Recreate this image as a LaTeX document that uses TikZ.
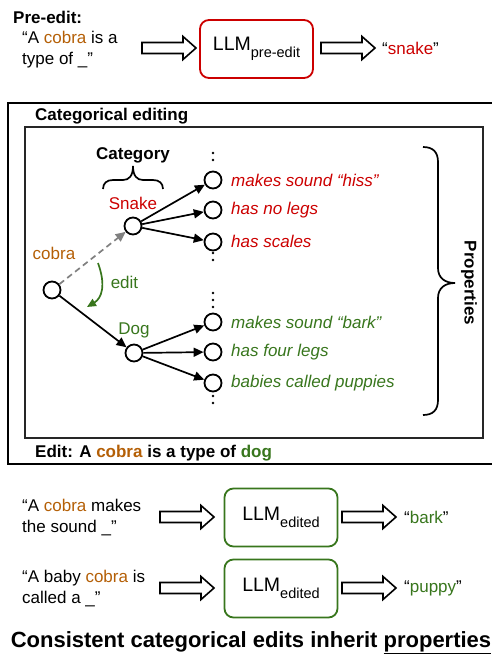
\documentclass[tikz,border=0pt]{standalone}
\usepackage{fontspec}
\setmainfont{Liberation Sans}
\usetikzlibrary{arrows.meta}
\definecolor{myred}{HTML}{CC0000}
\definecolor{mygreen}{HTML}{38761D}
\definecolor{myorange}{HTML}{B45F06}
\definecolor{mygrey}{HTML}{808080}
\begin{document}
\begin{tikzpicture}[x=1pt,y=-1pt,
  txt/.style={font=\fontsize{17}{21}\selectfont, inner sep=0pt},
  txtb/.style={font=\fontsize{17}{21}\selectfont\bfseries, inner sep=0pt},
  prop/.style={font=\fontsize{17}{21}\selectfont\itshape, inner sep=0pt, anchor=west},
  cnode/.style={circle, draw, line width=1.8pt, minimum size=17pt, inner sep=0pt, fill=white},
  conn/.style={line width=1.7pt, -{Triangle[length=10pt,width=9pt]}},
  llm/.style={draw, rounded corners=9pt, line width=1.8pt, minimum width=113pt, minimum height=58pt, inner sep=0pt, font=\fontsize{19.5}{22}\selectfont},
  vdots/.style={line width=2.6pt, line cap=round, dash pattern=on 0pt off 7pt},
  brace/.style={line width=1.7pt},
  blockarrow/.pic={\draw[line width=1.6pt, line join=miter, fill=white] (-27,-5.5) -- (14,-5.5) -- (14,-11.5) -- (27,0) -- (14,11.5) -- (14,5.5) -- (-27,5.5) -- cycle;}
]
\useasboundingbox (0,0) rectangle (492,657);
\newcommand{\llmsub}[1]{LLM\raisebox{-7pt}{\fontsize{14.5}{16}\selectfont #1}}

% ---------- Pre-edit ----------
\node[txtb, anchor=west] (pre) at (13,17) {Pre-edit:};
\node[txt, anchor=west, align=left] (q0) at (22,49.5) {“A \textcolor{myorange}{cobra} is a\\type of \_”};
\pic at (169,48) {blockarrow};
\node[llm, draw=myred] (llm0) at (256.5,49) {\llmsub{pre-edit}};
\pic at (348,48) {blockarrow};
\node[txt, anchor=west] (a0) at (382,48) {“\textcolor{myred}{snake}”};

% ---------- Categorical editing frame ----------
\draw[line width=2.3pt] (494,103) -- (8,103) -- (8,464) -- (494,464);
\node[txtb, anchor=west] (cattitle) at (35,116) {Categorical editing};
\draw[line width=1.6pt, black!85] (25,127) rectangle (483,438);
\node[txtb, anchor=west] (edittitle) at (35,453) {Edit: A \textcolor{myorange}{cobra} is a type of \textcolor{mygreen}{dog}};

% category brace
\node[txtb] (category) at (133,155) {Category};
\draw[brace] (103,189) .. controls (103,183) and (107,180) .. (113,180) -- (123,180) .. controls (129,180) and (133,176) .. (133,166) .. controls (133,176) and (137,180) .. (143,180) -- (153,180) .. controls (159,180) and (163,183) .. (163,189);

% nodes
\node[txt, myred] (snakelbl) at (133,203) {Snake};
\node[cnode] (snake) at (133,226) {};
\node[txt, myorange] (cobralbl) at (54,253) {cobra};
\node[cnode] (cobra) at (52,290) {};
\node[txt, mygreen] (doglbl) at (134,330) {Dog};
\node[cnode] (dog) at (134,353) {};

\node[cnode] (p1) at (213,180) {};
\node[cnode] (p2) at (213,210) {};
\node[cnode] (p3) at (213,242) {};
\node[cnode] (p4) at (213,322) {};
\node[cnode] (p5) at (213,352) {};
\node[cnode] (p6) at (213,383) {};

\node[prop, myred] (t1) at (231,180) {makes sound “hiss”};
\node[prop, myred] (t2) at (231,210) {has no legs};
\node[prop, myred] (t3) at (231,241) {has scales};
\node[prop, mygreen] (t4) at (231,322) {makes sound “bark”};
\node[prop, mygreen] (t5) at (231,352) {has four legs};
\node[prop, mygreen] (t6) at (231,383) {babies called puppies};

\draw[vdots] (213,153) -- (213,167);
\draw[vdots] (213,253) -- (213,267);
\draw[vdots] (213,293) -- (213,307);
\draw[vdots] (213,396) -- (213,410);

% connectors
\draw[conn, mygrey, dash pattern=on 6pt off 4pt] (cobra) -- (snake);
\draw[conn] (cobra) -- (dog);
\draw[conn] (snake) -- (p1);
\draw[conn] (snake) -- (p2);
\draw[conn] (snake) -- (p3);
\draw[conn] (dog) -- (p4);
\draw[conn] (dog) -- (p5);
\draw[conn] (dog) -- (p6);

% edit arrow
\coordinate (e1) at (98,263);
\coordinate (e2) at (87,307);
\draw[line width=1.7pt, mygreen, -{Triangle[length=9pt,width=8pt]}] (e1) .. controls (106,285) and (102,298) .. (e2);
\node[txt, mygreen] (editlbl) at (124.5,282) {edit};

% properties brace
\draw[brace] (423,147) .. controls (433,147) and (438,152) .. (438,162) -- (438,268) .. controls (438,278) and (445,283) .. (455,283) .. controls (445,283) and (438,288) .. (438,298) -- (438,400) .. controls (438,410) and (433,415) .. (423,415);
\node[txtb, rotate=-90] (props) at (469,283) {Properties};

% ---------- Edited model ----------
\node[txt, anchor=west, align=left] (q1) at (22,517.5) {“A \textcolor{myorange}{cobra} makes\\the sound \_”};
\pic at (187,517) {blockarrow};
\node[llm, draw=mygreen] (llm1) at (281,517.5) {\llmsub{edited}};
\pic at (369,517) {blockarrow};
\node[txt, anchor=west] (a1) at (404,517) {“\textcolor{mygreen}{bark}”};

\node[txt, anchor=west, align=left] (q2) at (22,588.5) {“A baby \textcolor{myorange}{cobra} is\\called a \_”};
\pic at (187,588) {blockarrow};
\node[llm, draw=mygreen] (llm2) at (281,588.5) {\llmsub{edited}};
\pic at (369,588) {blockarrow};
\node[txt, anchor=west] (a2) at (404,588) {“\textcolor{mygreen}{puppy}”};

\node[font=\fontsize{22}{26}\selectfont\bfseries, inner sep=0pt] (title) at (251,643) {Consistent categorical edits inherit \underline{properties}};
\end{tikzpicture}
\end{document}
